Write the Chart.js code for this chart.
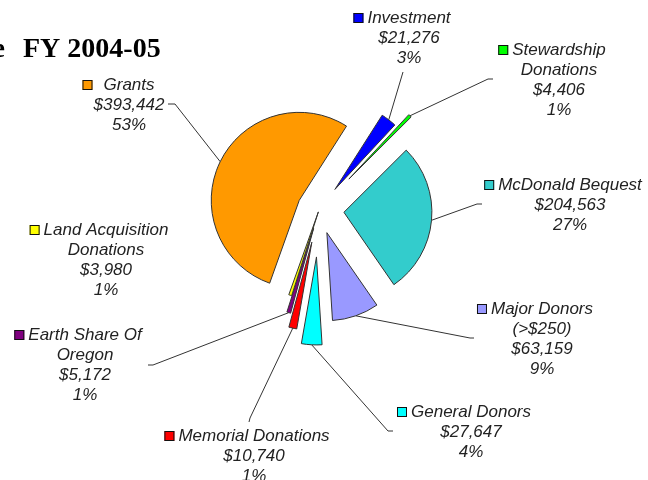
<!DOCTYPE html>
<html>
<head>
    <meta charset="UTF-8">
    <title>FY 2004-05</title>
    <style>
        body { margin: 0; background: #fff; }
        #wrap { width: 648px; height: 480px; }
    </style>
</head>
<body>
<div id="wrap">
    <canvas id="chart" width="648" height="480"></canvas>
</div>
<script src="https://cdn.jsdelivr.net/npm/chart.js"></script>
<script>
    // data
    var categories = [
        ['Investment'],
        ['Stewardship', 'Donations'],
        ['McDonald Bequest'],
        ['Major Donors', '(>$250)'],
        ['General Donors'],
        ['Memorial Donations'],
        ['Earth Share Of', 'Oregon'],
        ['Land Acquisition', 'Donations'],
        ['Grants']
    ];
    var amounts = [21276, 4406, 204563, 63159, 27647, 10740, 5172, 3980, 393442];
    var percentLabels = ['3%', '1%', '27%', '9%', '4%', '1%', '1%', '1%', '53%'];
    var colors = ['#0000FF', '#00FF00', '#33CCCC', '#9999FF', '#00FFFF', '#FF0000', '#800080', '#FFFF00', '#FF9900'];

    // how far each slice is pulled out from the centre (px)
    var explode = [26, 43, 25, 24, 47, 33, 19, 2, 22];

    // where each label block sits (centre x, first line y) and its leader line bends
    var labelSpots = [
        {x: 409, y: 18, gap: 4, leader: [[403, 72]]},
        {x: 559, y: 50, gap: 4, leader: [[488, 79], [493, 79]]},
        {x: 570, y: 185, gap: 4, leader: [[477, 204], [482, 204]]},
        {x: 542, y: 309, gap: 4, leader: [[470, 338], [474, 338]]},
        {x: 471, y: 412, gap: 4, leader: [[388, 431], [393, 431]]},
        {x: 254, y: 436, gap: 4, leader: [[250, 418], [249, 422]]},
        {x: 85, y: 335, gap: 4, leader: [[153, 365], [148, 365]]},
        {x: 106, y: 230, gap: 4, leader: []},
        {x: 129, y: 85, gap: 11, leader: [[175, 104], [168, 104]]}
    ];

    // pull slices apart without growing them (v4 "offset" also enlarges thin slices)
    var explodePlugin = {
        id: 'explodePlugin',
        afterDatasetUpdate: function (chart, args) {
            var area = chart.chartArea;
            var cx = (area.left + area.right) / 2;
            var cy = (area.top + area.bottom) / 2;
            chart.getDatasetMeta(args.index).data.forEach(function (arc, i) {
                var mid = (arc.startAngle + arc.endAngle) / 2;
                arc.x = cx + Math.cos(mid) * explode[i];
                arc.y = cy + Math.sin(mid) * explode[i];
            });
        }
    };

    var labelPlugin = {
        id: 'labelPlugin',
        afterDraw: function (chart) {
            var ctx = chart.ctx;
            var meta = chart.getDatasetMeta(0);
            ctx.save();

            // title, cut off at the left edge
            ctx.fillStyle = '#000';
            ctx.font = 'bold 28px "Liberation Serif", "Times New Roman", serif';
            ctx.textBaseline = 'alphabetic';
            ctx.textAlign = 'right';
            ctx.fillText('e', 5, 57);
            ctx.textAlign = 'left';
            ctx.fillText('FY 2004-05', 23, 57);

            // leader lines from the outer edge of each slice
            ctx.strokeStyle = '#333';
            ctx.lineWidth = 1;
            meta.data.forEach(function (arc, i) {
                var spot = labelSpots[i];
                if (!spot.leader.length) return;
                var mid = (arc.startAngle + arc.endAngle) / 2;
                ctx.beginPath();
                ctx.moveTo(arc.x + Math.cos(mid) * arc.outerRadius, arc.y + Math.sin(mid) * arc.outerRadius);
                spot.leader.forEach(function (p) {
                    ctx.lineTo(p[0], p[1]);
                });
                ctx.stroke();
            });

            // label blocks
            ctx.font = 'italic 17px "Liberation Sans", Arial, sans-serif';
            ctx.textAlign = 'center';
            ctx.textBaseline = 'middle';
            categories.forEach(function (lines, i) {
                var spot = labelSpots[i];
                var all = lines.concat(['$' + amounts[i].toLocaleString('en-US'), percentLabels[i]]);
                ctx.fillStyle = '#222';
                all.forEach(function (t, k) {
                    ctx.fillText(t, spot.x, spot.y + k * 20);
                });
                var w = ctx.measureText(lines[0]).width;
                var sx = spot.x - w / 2 - spot.gap - 10;
                ctx.fillStyle = colors[i];
                ctx.fillRect(sx, spot.y - 5, 10, 10);
                ctx.strokeStyle = '#111';
                ctx.strokeRect(sx + 0.5, spot.y - 4.5, 9, 9);
            });
            ctx.restore();
        }
    };

    var ctx = document.getElementById('chart').getContext('2d');
    var pie = new Chart(ctx, {
        type: 'pie',
        data: {
            labels: categories,
            datasets: [{
                data: amounts,
                backgroundColor: colors,
                borderColor: '#333',
                borderWidth: 1,
                offset: 0,
                hoverOffset: 0
            }]
        },
        options: {
            responsive: false,
            animation: false,
            events: [],
            rotation: 32.5,
            radius: 88,
            layout: {
                padding: {left: 150, right: 160, top: 100, bottom: 160}
            },
            plugins: {
                legend: {display: false},
                tooltip: {enabled: false},
                title: {display: false}
            }
        },
        plugins: [explodePlugin, labelPlugin]
    });
</script>
</body>
</html>
